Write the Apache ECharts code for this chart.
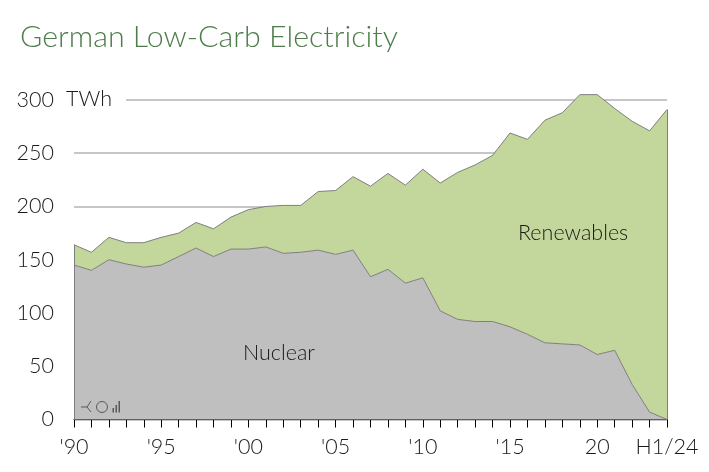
<!DOCTYPE html>
<html>
<head>
<meta charset="utf-8">
<style>
  html, body { margin: 0; padding: 0; background: #fff; }
  #main { width: 709px; height: 472px; }
</style>
<script src="https://cdn.jsdelivr.net/npm/echarts@6/dist/echarts.min.js"></script>
</head>
<body>
<div id="main"></div>
<script>
// x axis, one entry per year, last one is the first half of 2024
var categories = ["'90", '91', '92', '93', '94', "'95", '96', '97', '98', '99', "'00", '01', '02', '03', '04',
  "'05", '06', '07', '08', '09', "'10", '11', '12', '13', '14', "'15", '16', '17', '18', '19', '20', '21', '22', '23', 'H1/24'];
var labelled = ["'90", "'95", "'00", "'05", "'10", "'15", '20', 'H1/24'];
var yTicks = [0, 50, 100, 150, 200, 250, 300];

// TWh
var nuclear = [145, 140, 150, 146, 143, 145, 153, 161, 153, 160, 160, 162, 156, 157, 159, 155, 159, 134, 141, 128,
  133, 102, 94, 92, 92, 87, 80, 72, 71, 70, 61, 65, 33, 7, 0];
var renewables = [19, 17, 21, 20, 23, 26, 22, 24, 26, 30, 37, 38, 45, 44, 55, 60, 69, 85, 90, 92,
  102, 120, 138, 147, 156, 182, 183, 209, 217, 235, 244, 227, 247, 264, 291];

var FONT = 'Lato, "Open Sans", sans-serif';
var TEXT = '#1a1a1a';
var EDGE = '#7f7f7f';
var LOGO = '#595959';
var last = categories.length - 1;

var chart = echarts.init(document.getElementById('main'));

chart.setOption({
  backgroundColor: '#ffffff',
  animation: false,
  grid: { left: 74, right: 42, top: 46.7, bottom: 52.5 },
  xAxis: {
    type: 'category',
    data: categories,
    boundaryGap: false,
    axisLine: { lineStyle: { color: '#000', width: 1 } },
    axisTick: { show: true, interval: 0, length: 8, lineStyle: { color: '#000', width: 1 } },
    axisLabel: {
      interval: 0,
      hideOverlap: false,
      margin: 17,
      fontFamily: FONT,
      fontWeight: 300,
      fontSize: 21.5,
      color: TEXT,
      formatter: function (v) { return labelled.indexOf(v) >= 0 ? v : ''; }
    }
  },
  yAxis: {
    type: 'value',
    min: 0,
    max: 350,
    interval: 50,
    axisLine: { show: false },
    axisTick: { show: false },
    splitLine: { showMaxLine: false, lineStyle: { color: '#c6c6c6', width: 2 } },
    axisLabel: {
      showMaxLabel: false,
      margin: 20,
      fontFamily: FONT,
      fontWeight: 300,
      fontSize: 21.5,
      color: TEXT,
      formatter: function (v) { return yTicks.indexOf(v) >= 0 ? String(v) : ''; }
    }
  },
  series: [
    {
      name: 'Nuclear',
      type: 'line',
      stack: 'low',
      data: nuclear,
      showSymbol: false,
      lineStyle: { color: EDGE, width: 1 },
      areaStyle: { color: '#bfbfbf', opacity: 1 }
    },
    {
      name: 'Renewables',
      type: 'line',
      stack: 'low',
      data: renewables,
      showSymbol: false,
      lineStyle: { color: EDGE, width: 1 },
      areaStyle: { color: '#c3d69b', opacity: 1 },
      // grey closing edges of the areas
      markLine: {
        silent: true,
        symbol: 'none',
        label: { show: false },
        lineStyle: { color: EDGE, width: 1, type: 'solid' },
        data: [
          [{ coord: [categories[0], 0] }, { coord: [categories[0], nuclear[0] + renewables[0]] }],
          [{ coord: [categories[last], 0] }, { coord: [categories[last], nuclear[last] + renewables[last]] }]
        ]
      }
    }
  ],
  graphic: [
    { type: 'text', left: 20, top: 22, style: { text: 'German Low-Carb Electricity', fontFamily: FONT, fontWeight: 300, fontSize: 30.4, fill: '#4e7d4b' } },
    { type: 'text', left: 66, top: 88, z: 10, style: { text: 'TWh', fontFamily: FONT, fontWeight: 300, fontSize: 21.5, fill: TEXT, backgroundColor: '#fff', padding: [0, 14, 0, 0] } },
    { type: 'text', left: 518, top: 222, z: 10, style: { text: 'Renewables', fontFamily: FONT, fontWeight: 300, fontSize: 21.5, fill: TEXT } },
    { type: 'text', left: 243, top: 342, z: 10, style: { text: 'Nuclear', fontFamily: FONT, fontWeight: 300, fontSize: 21.5, fill: TEXT } },
    // small logo in the corner of the plot
    { type: 'polyline', z: 10, shape: { points: [[81, 407], [87, 407], [91, 401]] }, style: { fill: 'none', stroke: LOGO, lineWidth: 1 } },
    { type: 'line', z: 10, shape: { x1: 87, y1: 407, x2: 91, y2: 412 }, style: { stroke: LOGO, lineWidth: 1 } },
    { type: 'circle', z: 10, shape: { cx: 102, cy: 407, r: 5.5 }, style: { fill: 'none', stroke: LOGO, lineWidth: 1 } },
    { type: 'rect', z: 10, shape: { x: 112.5, y: 408, width: 1.5, height: 4.5 }, style: { fill: LOGO } },
    { type: 'rect', z: 10, shape: { x: 115.5, y: 405, width: 1.5, height: 7.5 }, style: { fill: LOGO } },
    { type: 'rect', z: 10, shape: { x: 118.5, y: 401, width: 1.5, height: 11.5 }, style: { fill: LOGO } }
  ]
});
</script>
</body>
</html>
